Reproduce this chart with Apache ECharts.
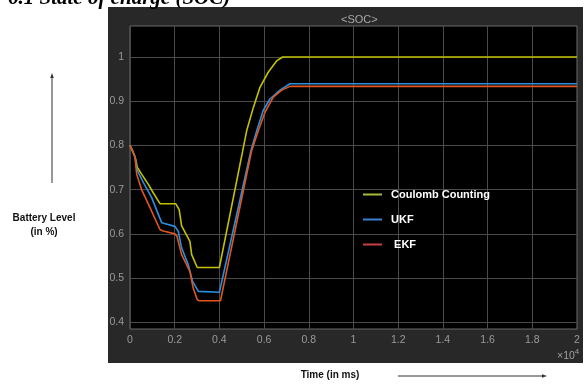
<!DOCTYPE html>
<html>
<head>
<meta charset="utf-8">
<script src="https://cdn.jsdelivr.net/npm/echarts@6/dist/echarts.min.js"></script>
<style>
  html, body { margin: 0; padding: 0; background: #fff; }
  #soc { width: 586px; height: 385px; }
</style>
</head>
<body>
<div id="soc"></div>
<script>
// values (time in ms, SOC as fraction)
var ccTime  = [0, 100, 250, 330, 520, 820, 1040, 1270, 1350, 2050, 2200, 2310, 2680, 2760, 3010, 4000, 5040, 5220, 5520, 5820, 6190, 6560, 6830, 20000];
var ccSoc   = [0.80, 0.79, 0.77, 0.75, 0.735, 0.712, 0.693, 0.674, 0.668, 0.668, 0.655, 0.618, 0.583, 0.553, 0.524, 0.524, 0.787, 0.833, 0.886, 0.932, 0.966, 0.991, 1.0, 1.0];

var ukfTime = [0, 220, 300, 370, 600, 970, 1420, 1500, 2010, 2160, 2310, 2610, 2800, 3060, 3100, 4000, 5410, 5670, 5960, 6260, 6710, 7160, 20000];
var ukfSoc  = [0.80, 0.775, 0.748, 0.739, 0.716, 0.682, 0.625, 0.621, 0.617, 0.606, 0.568, 0.530, 0.4925, 0.47, 0.468, 0.468, 0.788, 0.833, 0.879, 0.905, 0.925, 0.9395, 0.9395];

var ekfTime = [0, 220, 300, 520, 900, 1340, 1450, 2010, 2100, 2310, 2680, 2830, 3010, 3100, 4050, 5440, 5740, 6040, 6410, 6790, 7160, 20000];
var ekfSoc  = [0.80, 0.775, 0.735, 0.70, 0.659, 0.61, 0.607, 0.60, 0.595, 0.553, 0.515, 0.477, 0.451, 0.449, 0.449, 0.788, 0.833, 0.875, 0.909, 0.925, 0.9335, 0.9335];

var seriesNames = ['Coulomb Counting', 'UKF', ' EKF'];
var lineColors = ['#c2c200', '#2b8ede', '#e0561f'];
var legendColors = ['#a8b83c', '#3a80d0', '#c84040'];
var xTickStep = 2000;   // labels shown as multiples of 10^4
var yTickStep = 0.1;

function pairs(t, v) {
	var out = [];
	for (var i = 0; i < t.length; i++) out.push([t[i], v[i]]);
	return out;
}

// only every 20th split line (the 0.1 steps) is visible
var ySplitColors = [];
for (var k = 0; k < 20; k++) ySplitColors.push(k === 3 ? '#4a4a4a' : 'rgba(0,0,0,0)');

var chart = echarts.init(document.getElementById('soc'));

var option = {
	backgroundColor: '#ffffff',
	animation: false,
	title: {
		text: '<SOC>',
		left: 336,
		top: 9,
		textStyle: { color: '#a8a8a8', fontSize: 11, fontWeight: 'normal', fontFamily: 'Liberation Sans' }
	},
	graphic: [
		{ type: 'rect', z: -10, shape: { x: 108, y: 7, width: 475, height: 356 }, style: { fill: '#282828' } },
		{ type: 'text', x: 8, y: -12, style: { text: '6.1 State of charge (SOC)', fill: '#000', font: 'italic bold 21px "Liberation Serif"' } },
		{ type: 'text', x: 44, y: 218, style: { text: 'Battery Level', fill: '#111', font: 'bold 10px "Liberation Sans"', align: 'center', verticalAlign: 'middle' } },
		{ type: 'text', x: 44, y: 232, style: { text: '(in %)', fill: '#111', font: 'bold 10px "Liberation Sans"', align: 'center', verticalAlign: 'middle' } },
		{ type: 'line', shape: { x1: 52, y1: 183, x2: 52, y2: 77 }, style: { stroke: '#333', lineWidth: 1 } },
		{ type: 'polygon', shape: { points: [[52, 73], [50.2, 78], [53.8, 78]] }, style: { fill: '#333' } },
		{ type: 'text', x: 330, y: 375, style: { text: 'Time (in ms)', fill: '#111', font: 'bold 10px "Liberation Sans"', align: 'center', verticalAlign: 'middle' } },
		{ type: 'line', shape: { x1: 398, y1: 376, x2: 543, y2: 376 }, style: { stroke: '#333', lineWidth: 1 } },
		{ type: 'polygon', shape: { points: [[547, 376], [542, 374.2], [542, 377.8]] }, style: { fill: '#333' } },
		{
			type: 'text', x: 557, y: 345,
			style: {
				text: '{a|×10}{b|4}',
				rich: {
					a: { fill: '#a0a0a0', fontSize: 10.5, fontFamily: 'Liberation Sans', padding: [6, 0, 0, 0] },
					b: { fill: '#a0a0a0', fontSize: 8, fontFamily: 'Liberation Sans', padding: [0, 0, 4, 0] }
				}
			}
		}
	],
	grid: {
		left: 130,
		right: 9,
		top: 26,
		bottom: 56,
		show: true,
		backgroundColor: '#000000',
		borderColor: '#6a6a6a',
		borderWidth: 1
	},
	legend: {
		orient: 'vertical',
		left: 363,
		top: 189,
		padding: 0,
		icon: 'rect',
		itemWidth: 19,
		itemHeight: 2,
		itemGap: 14,
		data: seriesNames.map(function (n, i) {
			return { name: n, itemStyle: { color: legendColors[i] } };
		}),
		textStyle: { color: '#ffffff', fontWeight: 'bold', fontSize: 11, fontFamily: 'Liberation Sans', padding: [0, 0, 0, 4] }
	},
	xAxis: {
		type: 'value',
		min: 0,
		max: 20000,
		interval: xTickStep,
		axisLine: { show: false },
		axisTick: { show: false },
		axisLabel: {
			color: '#9a9a9a',
			fontSize: 10.5,
			fontFamily: 'Liberation Sans',
			margin: 6,
			formatter: function (v) { return String(+(v / 10000).toFixed(1)); }
		},
		splitLine: { lineStyle: { color: '#4a4a4a', width: 1 } }
	},
	yAxis: {
		type: 'value',
		min: 0.385,
		max: 1.07,
		interval: 0.005,
		axisLine: { show: false },
		axisTick: { show: false },
		axisLabel: {
			color: '#9a9a9a',
			fontSize: 10.5,
			fontFamily: 'Liberation Sans',
			margin: 6,
			formatter: function (v) {
				var r = v / yTickStep;
				if (Math.abs(r - Math.round(r)) > 1e-6) return '';
				return String(+v.toFixed(1));
			}
		},
		splitLine: { lineStyle: { color: ySplitColors, width: 1 } }
	},
	series: seriesNames.map(function (n, i) {
		var t = [ccTime, ukfTime, ekfTime][i];
		var v = [ccSoc, ukfSoc, ekfSoc][i];
		return {
			name: n,
			type: 'line',
			symbol: 'none',
			data: pairs(t, v),
			lineStyle: { color: lineColors[i], width: 1.6 },
			itemStyle: { color: lineColors[i] }
		};
	})
};

chart.setOption(option);
</script>
</body>
</html>
